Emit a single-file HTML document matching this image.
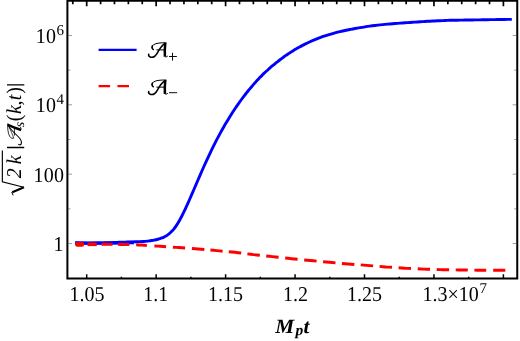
<!DOCTYPE html><html><head><meta charset="utf-8"><style>html,body{margin:0;padding:0;background:#fff;width:520px;height:341px;overflow:hidden}</style></head><body><svg width="520" height="341" viewBox="0 0 520 341" style="position:absolute;left:0;top:0;will-change:transform;text-rendering:geometricPrecision">
<rect x="0" y="0" width="520" height="341" fill="#fff"/>
<path d="M72.81 0.75 V4.35 M86.70 0.75 V6.25 M100.59 0.75 V4.35 M114.48 0.75 V4.35 M128.37 0.75 V4.35 M142.26 0.75 V4.35 M156.15 0.75 V6.25 M170.04 0.75 V4.35 M183.93 0.75 V4.35 M197.82 0.75 V4.35 M211.71 0.75 V4.35 M225.60 0.75 V6.25 M239.49 0.75 V4.35 M253.38 0.75 V4.35 M267.27 0.75 V4.35 M281.16 0.75 V4.35 M295.05 0.75 V6.25 M308.94 0.75 V4.35 M322.83 0.75 V4.35 M336.72 0.75 V4.35 M350.61 0.75 V4.35 M364.50 0.75 V6.25 M378.39 0.75 V4.35 M392.28 0.75 V4.35 M406.17 0.75 V4.35 M420.06 0.75 V4.35 M433.95 0.75 V6.25 M447.84 0.75 V4.35 M461.73 0.75 V4.35 M475.62 0.75 V4.35 M489.51 0.75 V4.35 M503.40 0.75 V6.25" stroke="#000" stroke-width="1.7" fill="none"/>
<path d="M86.70 278.45 V274.25 M121.42 278.45 V276.65 M156.15 278.45 V274.25 M190.87 278.45 V276.65 M225.60 278.45 V274.25 M260.32 278.45 V276.65 M295.05 278.45 V274.25 M329.78 278.45 V276.65 M364.50 278.45 V274.25 M399.23 278.45 V276.65 M433.95 278.45 V274.25 M468.68 278.45 V276.65 M503.40 278.45 V274.25" stroke="#000" stroke-width="1.5" fill="none"/>
<path d="M68.4 243.53 h3.6 M516.25 243.53 h-3.6 M68.4 208.85 h2.0 M516.25 208.85 h-2.0 M68.4 174.17 h3.6 M516.25 174.17 h-3.6 M68.4 139.49 h2.0 M516.25 139.49 h-2.0 M68.4 104.81 h3.6 M516.25 104.81 h-3.6 M68.4 70.13 h2.0 M516.25 70.13 h-2.0 M68.4 35.45 h3.6 M516.25 35.45 h-3.6" stroke="#555" stroke-width="0.6" fill="none"/>
<path d="M75.30 242.80 C75.97 242.83 77.97 242.92 79.30 242.96 C80.63 243.00 81.97 243.03 83.30 243.06 C84.63 243.08 85.97 243.09 87.30 243.10 C88.63 243.11 89.97 243.11 91.30 243.10 C92.63 243.09 93.97 243.08 95.30 243.06 C96.63 243.03 97.97 243.01 99.30 242.98 C100.63 242.95 101.97 242.91 103.30 242.87 C104.63 242.83 105.97 242.79 107.30 242.74 C108.63 242.70 109.97 242.65 111.30 242.60 C112.63 242.55 113.97 242.50 115.30 242.45 C116.63 242.40 117.97 242.35 119.30 242.30 C120.63 242.25 121.97 242.19 123.30 242.15 C124.63 242.10 125.97 242.05 127.30 242.01 C128.63 241.96 129.97 241.92 131.30 241.88 C132.63 241.84 133.97 241.82 135.30 241.78 C136.63 241.74 137.97 241.71 139.30 241.66 C140.63 241.61 141.97 241.56 143.30 241.47 C144.63 241.38 146.18 241.24 147.30 241.12 C148.42 241.01 149.22 240.88 150.00 240.78 C150.78 240.68 151.33 240.61 152.00 240.51 C152.67 240.41 153.33 240.30 154.00 240.18 C154.67 240.05 155.33 239.91 156.00 239.76 C156.67 239.61 157.33 239.44 158.00 239.25 C158.67 239.07 159.33 238.87 160.00 238.65 C160.67 238.43 161.33 238.20 162.00 237.93 C162.67 237.67 163.33 237.39 164.00 237.07 C164.67 236.75 165.33 236.39 166.00 235.99 C166.67 235.58 167.33 235.14 168.00 234.64 C168.67 234.15 169.33 233.62 170.00 233.03 C170.67 232.44 171.33 231.81 172.00 231.11 C172.67 230.41 173.33 229.65 174.00 228.83 C174.67 228.01 175.33 227.13 176.00 226.16 C176.67 225.20 177.33 224.17 178.00 223.07 C178.67 221.97 179.33 220.79 180.00 219.57 C180.67 218.35 181.33 217.06 182.00 215.75 C182.67 214.43 183.33 213.07 184.00 211.68 C184.67 210.29 185.33 208.87 186.00 207.43 C186.67 205.99 187.33 204.51 188.00 203.03 C188.67 201.54 189.33 200.03 190.00 198.52 C190.67 197.00 191.33 195.47 192.00 193.93 C192.67 192.39 193.33 190.84 194.00 189.29 C194.67 187.74 195.33 186.18 196.00 184.62 C196.67 183.07 197.33 181.51 198.00 179.96 C198.67 178.41 199.33 176.86 200.00 175.32 C200.67 173.79 201.33 172.26 202.00 170.74 C202.67 169.23 203.33 167.73 204.00 166.24 C204.67 164.76 205.33 163.29 206.00 161.83 C206.67 160.38 207.33 158.94 208.00 157.52 C208.67 156.09 209.33 154.69 210.00 153.30 C210.67 151.90 211.33 150.53 212.00 149.17 C212.67 147.81 213.33 146.46 214.00 145.13 C214.67 143.81 215.33 142.49 216.00 141.20 C216.67 139.90 217.33 138.62 218.00 137.36 C218.67 136.10 219.33 134.85 220.00 133.62 C220.67 132.39 221.33 131.18 222.00 129.98 C222.67 128.79 223.33 127.61 224.00 126.45 C224.67 125.28 225.33 124.14 226.00 123.01 C226.67 121.88 227.33 120.76 228.00 119.66 C228.67 118.56 229.33 117.48 230.00 116.41 C230.67 115.34 231.33 114.29 232.00 113.25 C232.67 112.21 233.33 111.19 234.00 110.18 C234.67 109.17 235.33 108.18 236.00 107.20 C236.67 106.22 237.33 105.25 238.00 104.30 C238.67 103.35 239.33 102.41 240.00 101.48 C240.67 100.56 241.33 99.65 242.00 98.75 C242.67 97.85 243.33 96.96 244.00 96.09 C244.67 95.22 245.33 94.36 246.00 93.51 C246.67 92.66 247.33 91.82 248.00 91.00 C248.67 90.17 249.33 89.36 250.00 88.56 C250.67 87.76 251.33 86.97 252.00 86.19 C252.67 85.41 253.33 84.64 254.00 83.89 C254.67 83.13 255.33 82.39 256.00 81.65 C256.67 80.91 257.33 80.19 258.00 79.47 C258.67 78.76 259.33 78.05 260.00 77.36 C260.67 76.67 261.33 76.02 262.00 75.36 C262.67 74.70 263.33 74.05 264.00 73.42 C264.67 72.78 265.33 72.15 266.00 71.53 C266.67 70.91 267.33 70.31 268.00 69.71 C268.67 69.11 269.33 68.52 270.00 67.94 C270.67 67.35 271.33 66.78 272.00 66.22 C272.67 65.66 273.33 65.11 274.00 64.56 C274.67 64.01 275.33 63.46 276.00 62.92 C276.67 62.38 277.33 61.84 278.00 61.31 C278.67 60.78 279.33 60.26 280.00 59.75 C280.67 59.24 281.33 58.74 282.00 58.24 C282.67 57.75 283.33 57.26 284.00 56.78 C284.67 56.30 285.33 55.83 286.00 55.37 C286.67 54.91 287.33 54.45 288.00 54.00 C288.67 53.56 289.33 53.12 290.00 52.68 C290.67 52.25 291.33 51.83 292.00 51.41 C292.67 50.99 293.33 50.58 294.00 50.18 C294.67 49.78 295.33 49.38 296.00 48.99 C296.67 48.60 297.33 48.22 298.00 47.84 C298.67 47.47 298.83 47.35 300.00 46.74 C301.17 46.12 303.33 44.97 305.00 44.15 C306.67 43.32 308.33 42.54 310.00 41.79 C311.67 41.04 313.33 40.33 315.00 39.65 C316.67 38.97 318.33 38.33 320.00 37.71 C321.67 37.10 323.33 36.52 325.00 35.96 C326.67 35.40 328.33 34.88 330.00 34.38 C331.67 33.88 333.33 33.40 335.00 32.95 C336.67 32.50 338.33 32.07 340.00 31.66 C341.67 31.26 343.33 30.87 345.00 30.51 C346.67 30.14 348.33 29.80 350.00 29.47 C351.67 29.13 353.33 28.79 355.00 28.48 C356.67 28.17 358.33 27.88 360.00 27.60 C361.67 27.32 363.33 27.06 365.00 26.81 C366.67 26.56 368.33 26.33 370.00 26.11 C371.67 25.88 373.33 25.68 375.00 25.48 C376.67 25.28 378.33 25.10 380.00 24.92 C381.67 24.74 383.33 24.57 385.00 24.42 C386.67 24.26 388.33 24.11 390.00 23.96 C391.67 23.82 393.33 23.68 395.00 23.55 C396.67 23.42 398.33 23.29 400.00 23.17 C401.67 23.05 403.33 22.93 405.00 22.81 C406.67 22.70 408.33 22.58 410.00 22.47 C411.67 22.36 413.33 22.25 415.00 22.14 C416.67 22.03 418.33 21.92 420.00 21.81 C421.67 21.70 423.33 21.59 425.00 21.49 C426.67 21.38 428.33 21.27 430.00 21.18 C431.67 21.09 433.33 21.01 435.00 20.93 C436.67 20.85 438.33 20.78 440.00 20.70 C441.67 20.63 443.33 20.54 445.00 20.47 C446.67 20.41 448.33 20.36 450.00 20.31 C451.67 20.27 453.33 20.24 455.00 20.21 C456.67 20.18 458.33 20.17 460.00 20.15 C461.67 20.13 463.33 20.10 465.00 20.07 C466.67 20.05 468.33 20.03 470.00 20.00 C471.67 19.97 473.33 19.94 475.00 19.92 C476.67 19.89 478.33 19.86 480.00 19.83 C481.67 19.81 483.33 19.78 485.00 19.75 C486.67 19.72 488.33 19.70 490.00 19.67 C491.67 19.65 493.33 19.62 495.00 19.60 C496.67 19.57 498.33 19.55 500.00 19.52 C501.67 19.50 503.33 19.47 505.00 19.45 C506.67 19.42 508.87 19.39 510.00 19.38 C511.13 19.36 511.50 19.35 511.80 19.35" stroke="#0000ff" stroke-width="2.9" fill="none" stroke-linecap="butt" stroke-linejoin="round"/>
<path d="M75.3 243.15 H112 L134 242.5" stroke="#0000ff" stroke-width="3.3" fill="none"/>
<path d="M101.50 244.31 L104.25 244.32 L107.00 244.34 L109.75 244.35 L112.50 244.36 M117.90 244.39 L120.76 244.41 L123.62 244.44 L126.49 244.47 L129.35 244.52 M136.15 244.81 L138.82 244.92 L141.50 245.05 L144.18 245.23 L146.85 245.41 M154.40 245.92 L157.32 246.11 L160.25 246.31 L163.18 246.51 L166.10 246.71 M172.90 247.17 L175.95 247.38 L179.00 247.59 L182.05 247.81 L185.10 248.04 M191.90 248.54 L195.01 248.78 L198.12 249.01 L201.24 249.27 L204.35 249.55 M210.40 250.07 L213.45 250.34 L216.50 250.61 L219.55 250.88 L222.60 251.16 M228.80 251.72 L231.90 252.00 L235.00 252.29 L238.10 252.68 L241.20 253.07 M247.40 253.86 L250.51 254.25 L253.62 254.64 L256.74 254.96 L259.85 255.29 M266.20 255.96 L269.30 256.29 L272.40 256.62 L275.50 256.95 L278.60 257.29 M285.20 258.01 L288.30 258.34 L291.40 258.68 L294.50 258.97 L297.60 259.27 M304.20 259.91 L307.30 260.20 L310.40 260.50 L313.50 260.80 L316.60 261.10 M323.10 261.72 L326.20 262.02 L329.30 262.32 L332.40 262.59 L335.50 262.87 M341.90 263.44 L345.01 263.72 L348.12 263.96 L351.24 264.19 L354.35 264.42 M360.70 264.90 L363.80 265.13 L366.90 265.36 L370.00 265.61 L373.10 265.85 M379.60 266.39 L382.70 266.66 L385.80 266.93 L388.90 267.13 L392.00 267.34 M398.60 267.77 L401.70 267.99 L404.80 268.21 L407.90 268.36 L411.00 268.50 M417.70 268.82 L420.80 268.96 L423.90 269.11 L427.00 269.20 L430.10 269.30 M436.70 269.51 L439.80 269.61 L442.90 269.70 L446.00 269.75 L449.10 269.80 M455.70 269.90 L458.73 269.95 L461.75 270.00 L464.77 270.03 L467.80 270.06 M474.40 270.13 L477.35 270.17 L480.30 270.20 L483.25 270.20 L486.20 270.20 M493.20 270.20 L496.23 270.20 L499.25 270.20 L502.27 270.20 L505.30 270.20" stroke="#ff0000" stroke-width="2.95" fill="none" stroke-linecap="butt"/>
<rect x="75.1" y="241.95" width="9.1" height="4.7" rx="2.2" ry="2.2" fill="#ff0000"/>
<path d="M87.5 244.3 H96.8" stroke="#ff0000" stroke-width="3.6" fill="none"/>
<path d="M67.4 -1.25 V278.45 H517.25 V-1.25 M67.4 0.75 H517.25" stroke="#000" stroke-width="2" fill="none" stroke-linejoin="miter" stroke-linecap="square"/>
<path d="M98.6 49.8 H136.6" stroke="#0000ff" stroke-width="2.2" fill="none"/>
<path d="M98.6 86.1 H110.1 M117.5 86.1 H129.0" stroke="#ff0000" stroke-width="2.15" fill="none"/>
<defs><g id="sA" fill="none" stroke="#000" stroke-linecap="round" stroke-linejoin="round">
<path d="M5.3 6.9 C3.9 5.8 3.9 3.6 5.6 2.3 C8.2 0.5 13.5 0.1 18.3 0.3" stroke-width="1.0"/><path d="M5.4 7.0 C4.2 6.0 4.0 4.6 4.6 3.4" stroke-width="1.5"/>
<path d="M17.2 0.9 C13.8 3.0 11.6 6.6 9.6 10.3 C7.6 13.9 5.0 15.2 2.9 14.7 C1.2 14.2 0.6 12.9 0.9 11.7" stroke-width="1.55"/>
<path d="M9.0 7.4 H16.4" stroke-width="1.0"/>
<path d="M17.5 0.4 C17.0 5 16.8 9.5 17.1 14.2" stroke-width="2.5" stroke-linecap="butt"/>
<path d="M17.1 14.0 C17.8 14.7 18.8 14.6 19.7 13.8" stroke-width="1.0"/>
</g><g id="sB" fill="none" stroke="#000" stroke-linecap="round" stroke-linejoin="round">
<path d="M5.6 6.4 C4.4 5.6 4.4 3.6 6.0 2.4 C8.6 0.6 13.5 0.1 18.3 0.3" stroke-width="0.8"/>
<path d="M5.7 6.5 C8.5 6.0 12.5 3.5 17.0 0.9" stroke-width="0.7"/>
<path d="M17.2 0.9 C13.8 3.0 11.6 6.6 9.6 10.3 C7.6 13.9 5.0 15.2 2.9 14.7 C1.2 14.2 0.6 12.9 0.9 11.7" stroke-width="1.15"/>
<path d="M9.0 7.4 H16.4" stroke-width="0.8"/>
<path d="M17.5 0.4 C17.0 5 16.8 9.5 17.1 14.2" stroke-width="2.6" stroke-linecap="butt"/>
<path d="M17.1 14.0 C17.8 14.7 18.8 14.6 19.7 13.8" stroke-width="0.9"/>
</g></defs>
<use href="#sA" x="147.8" y="42.5"/>
<use href="#sA" x="147.8" y="79.75"/>
<path d="M169.0 56.5 H176.9 M172.5 52.8 V60.6" stroke="#000" stroke-width="0.95" fill="none"/>
<path d="M169.0 92.7 H177.1" stroke="#000" stroke-width="0.95" fill="none"/>
<text transform="translate(87.00,300.90) scale(1,1.055)" text-anchor="middle" style="font-family:'Liberation Serif',serif;font-size:20px;fill:#000">1.05</text>
<text transform="translate(155.75,300.90) scale(1,1.055)" text-anchor="middle" style="font-family:'Liberation Serif',serif;font-size:20px;fill:#000">1.1</text>
<text transform="translate(225.60,300.90) scale(1,1.055)" text-anchor="middle" style="font-family:'Liberation Serif',serif;font-size:20px;fill:#000">1.15</text>
<text transform="translate(295.55,300.90) scale(1,1.055)" text-anchor="middle" style="font-family:'Liberation Serif',serif;font-size:20px;fill:#000">1.2</text>
<text transform="translate(364.50,300.90) scale(1,1.055)" text-anchor="middle" style="font-family:'Liberation Serif',serif;font-size:20px;fill:#000">1.25</text>
<text transform="translate(422.50,300.90) scale(1,1.055)" text-anchor="start" style="font-family:'Liberation Serif',serif;font-size:20px;fill:#000">1.3×10</text>
<text transform="translate(479.60,292.50) scale(1,1.0)" text-anchor="start" style="font-family:'Liberation Serif',serif;font-size:20px;fill:#000;font-size:15px">7</text>
<text transform="translate(56.40,42.90) scale(1,1.055)" text-anchor="end" style="font-family:'Liberation Serif',serif;font-size:20px;fill:#000;letter-spacing:0.3px">10</text>
<text transform="translate(56.40,34.80) scale(1,1.0)" text-anchor="start" style="font-family:'Liberation Serif',serif;font-size:20px;fill:#000;font-size:15px">6</text>
<text transform="translate(56.40,112.26) scale(1,1.055)" text-anchor="end" style="font-family:'Liberation Serif',serif;font-size:20px;fill:#000;letter-spacing:0.3px">10</text>
<text transform="translate(56.40,104.20) scale(1,1.0)" text-anchor="start" style="font-family:'Liberation Serif',serif;font-size:20px;fill:#000;font-size:15px">4</text>
<text transform="translate(64.30,181.62) scale(1,1.055)" text-anchor="end" style="font-family:'Liberation Serif',serif;font-size:20px;fill:#000;letter-spacing:0.3px">100</text>
<text transform="translate(63.60,250.98) scale(1,1.055)" text-anchor="end" style="font-family:'Liberation Serif',serif;font-size:20px;fill:#000">1</text>
<text transform="translate(275.20,332.80) scale(1,0.955)" text-anchor="start" style="font-family:'Liberation Serif',serif;font-size:21.3px;fill:#000;font-style:italic;font-weight:bold">M</text>
<text transform="translate(295.60,334.80) scale(1,0.98)" text-anchor="start" style="font-family:'Liberation Serif',serif;font-size:21.3px;fill:#000;font-style:italic;font-weight:bold;font-size:15.5px">p</text>
<text transform="translate(303.60,332.80) scale(1,0.955)" text-anchor="start" style="font-family:'Liberation Serif',serif;font-size:21.3px;fill:#000;font-style:italic;font-weight:bold">t</text>
<path d="M2.35 150.6 V181.8 L23.75 187.3" stroke="#000" stroke-width="1.15" fill="none" stroke-linejoin="miter"/>
<path d="M24.0 187.2 L12.3 192.2" stroke="#000" stroke-width="2.1" fill="none"/>
<path d="M11.7 192.0 L13.2 195.4" stroke="#000" stroke-width="1.0" fill="none"/>
<text transform="translate(21.099999999999998,178.3) rotate(-90) scale(1,1.055)" style="font-family:'Liberation Serif',serif;font-size:20px;fill:#000;font-style:italic">2</text>
<text transform="translate(21.099999999999998,164.2) rotate(-90) scale(1,1.055)" style="font-family:'Liberation Serif',serif;font-size:20px;fill:#000;font-style:italic">k</text>
<text transform="translate(21.099999999999998,121.3) rotate(-90) scale(1,1.055)" style="font-family:'Liberation Serif',serif;font-size:20px;fill:#000">(</text>
<text transform="translate(21.099999999999998,114.0) rotate(-90) scale(1,1.055)" style="font-family:'Liberation Serif',serif;font-size:20px;fill:#000;font-style:italic">k</text>
<text transform="translate(21.099999999999998,105.5) rotate(-90) scale(1,1.055)" style="font-family:'Liberation Serif',serif;font-size:20px;fill:#000">,</text>
<text transform="translate(21.099999999999998,100.2) rotate(-90) scale(1,1.055)" style="font-family:'Liberation Serif',serif;font-size:20px;fill:#000;font-style:italic">t</text>
<text transform="translate(21.099999999999998,93.8) rotate(-90) scale(1,1.055)" style="font-family:'Liberation Serif',serif;font-size:20px;fill:#000">)</text>
<text transform="translate(24.3,127.2) rotate(-90)" style="font-family:'Liberation Serif',serif;font-size:20px;fill:#000;font-style:italic;font-size:14px">s</text>
<path d="M7 147.5 H24.2 M7 84.9 H24.3" stroke="#000" stroke-width="1.3" fill="none"/>
<use href="#sB" transform="translate(7.4,141.2) rotate(-90) skewX(-20) scale(0.95,0.95)"/>
</svg></body></html>
